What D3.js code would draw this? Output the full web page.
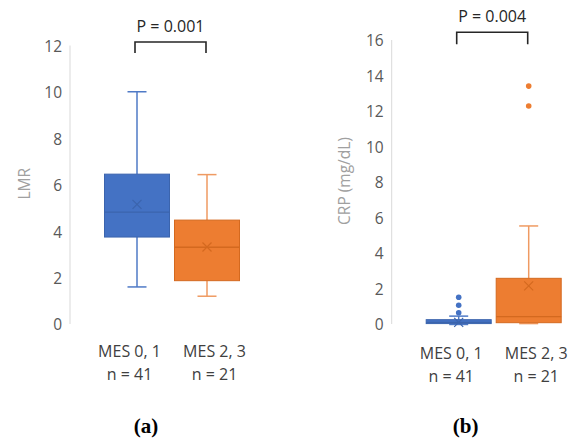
<!DOCTYPE html>
<html>
<head>
<meta charset="utf-8">
<script src="https://cdn.jsdelivr.net/npm/d3@7"></script>
<style>
  body { margin: 0; background: #fff; }
  svg { display: block; font-family: "Open Sans", "Noto Sans", sans-serif; }
</style>
</head>
<body>
<svg id="chart" width="571" height="446"></svg>
<script>
// groups and counts
var groups = ["MES 0, 1", "MES 2, 3"];
var counts = [41, 21];

// (a) LMR
var lmrTicks = [0, 2, 4, 6, 8, 10, 12];
var lmrMin = [1.64, 1.24];
var lmrQ1 = [3.79, 1.91];
var lmrMedian = [4.86, 3.35];
var lmrQ3 = [6.5, 4.52];
var lmrMax = [10.05, 6.48];
var lmrMean = [5.2, 3.36];
var lmrOutliers = [[], []];

// (b) CRP
var crpTicks = [0, 2, 4, 6, 8, 10, 12, 14, 16];
var crpMin = [0.03, 0.08];
var crpQ1 = [0.08, 0.13];
var crpMedian = [0.15, 0.47];
var crpQ3 = [0.3, 2.63];
var crpMax = [0.5, 5.58];
var crpMean = [0.15, 2.2];
var crpOutliers = [[0.69, 1.11, 1.56], [12.34, 13.46]];

var fills = ["#4472C4", "#ED7D31"];
var strokes = ["#3b64ad", "#d4691f"];
var whiskerCols = ["#4f7ac6", "#ef9a62"];

var svg = d3.select("#chart");

var panels = [
  {axisX: 70, top: 46.5, bottom: 325, max: 12, ticks: lmrTicks, title: "LMR", titleX: 25,
   min: lmrMin, q1: lmrQ1, med: lmrMedian, q3: lmrQ3, mx: lmrMax, mean: lmrMean, out: lmrOutliers,
   p: "P = 0.001", pBase: 31.5, brTop: 42, brBot: 53, tag: "(a)"},
  {axisX: 391.7, top: 41, bottom: 325, max: 16, ticks: crpTicks, title: "CRP (mg/dL)", titleX: 345,
   min: crpMin, q1: crpQ1, med: crpMedian, q3: crpQ3, mx: crpMax, mean: crpMean, out: crpOutliers,
   p: "P = 0.004", pBase: 21.7, brTop: 32.3, brBot: 44.3, tag: "(b)"}
];

panels.forEach(function(pn) {
  var g = svg.append("g");

  var y = d3.scaleLinear().domain([0, pn.max]).range([pn.bottom, pn.top]);

  // label positions and box positions
  var xl = d3.scaleBand().domain(groups).range([pn.axisX + 17, pn.axisX + 187]);
  var xb = d3.scaleBand().domain(groups).range([pn.axisX + 32, pn.axisX + 172]);
  var bw = 65, cap = 19;

  // axis line
  g.append("line")
    .attr("x1", pn.axisX).attr("x2", pn.axisX)
    .attr("y1", y(pn.max) - 1).attr("y2", y(0) - 1)
    .attr("stroke", "#d9d9d9").attr("stroke-width", 1);

  // tick labels
  g.selectAll("text.tick")
    .data(pn.ticks)
    .enter()
    .append("text")
    .attr("class", "tick")
    .attr("x", pn.axisX - 8)
    .attr("y", function(d) { return y(d); })
    .attr("dy", "0.35em")
    .attr("text-anchor", "end")
    .attr("fill", "#595959")
    .style("font-size", "15.5px")
    .text(function(d) { return d; });

  // axis title
  g.append("text")
    .attr("transform", "translate(" + pn.titleX + "," + ((pn.top + pn.bottom) / 2 - 2) + ") rotate(-90)")
    .attr("text-anchor", "middle")
    .attr("dy", "0.35em")
    .attr("fill", "#a0a0a0")
    .style("font-size", "15.5px")
    .text(pn.title);

  groups.forEach(function(grp, i) {
    var cx = xb(grp) + xb.bandwidth() / 2;
    var wc = whiskerCols[i];

    // whiskers
    g.append("line").attr("x1", cx).attr("x2", cx)
      .attr("y1", y(pn.mx[i])).attr("y2", y(pn.q3[i]))
      .attr("stroke", wc).attr("stroke-width", 1.5);
    g.append("line").attr("x1", cx).attr("x2", cx)
      .attr("y1", y(pn.q1[i])).attr("y2", y(pn.min[i]))
      .attr("stroke", wc).attr("stroke-width", 1.5);
    [pn.mx[i], pn.min[i]].forEach(function(v) {
      g.append("line").attr("x1", cx - cap / 2).attr("x2", cx + cap / 2)
        .attr("y1", y(v)).attr("y2", y(v))
        .attr("stroke", wc).attr("stroke-width", 1.5);
    });

    // box
    g.append("rect")
      .attr("x", cx - bw / 2)
      .attr("y", y(pn.q3[i]))
      .attr("width", bw)
      .attr("height", Math.max(y(pn.q1[i]) - y(pn.q3[i]), 2))
      .attr("fill", fills[i])
      .attr("stroke", strokes[i])
      .attr("stroke-width", 1);

    // median
    g.append("line")
      .attr("x1", cx - bw / 2).attr("x2", cx + bw / 2)
      .attr("y1", y(pn.med[i])).attr("y2", y(pn.med[i]))
      .attr("stroke", strokes[i]).attr("stroke-width", 1.3);

    // mean marker
    var my = y(pn.mean[i]), s = 4.5;
    g.append("path")
      .attr("d", "M" + (cx - s) + "," + (my - s) + "L" + (cx + s) + "," + (my + s) +
                 "M" + (cx - s) + "," + (my + s) + "L" + (cx + s) + "," + (my - s))
      .attr("stroke", strokes[i]).attr("stroke-width", 1.2).attr("fill", "none");

    // outliers
    g.selectAll(null)
      .data(pn.out[i])
      .enter()
      .append("circle")
      .attr("cx", cx)
      .attr("cy", function(d) { return y(d); })
      .attr("r", 2.8)
      .attr("fill", fills[i]);

    // category labels
    var lx = xl(grp) + xl.bandwidth() / 2;
    g.append("text")
      .attr("x", lx).attr("y", 357 + (pn.axisX > 200 ? 1.5 : 0))
      .attr("text-anchor", "middle")
      .attr("fill", "#404040")
      .style("font-size", "16px")
      .text(grp);
    g.append("text")
      .attr("x", lx).attr("y", 380 + (pn.axisX > 200 ? 1.5 : 0))
      .attr("text-anchor", "middle")
      .attr("fill", "#404040")
      .style("font-size", "16px")
      .text("n = " + counts[i]);
  });

  // significance bracket
  var b0 = xb(groups[0]) + xb.bandwidth() / 2 - 2;
  var b1 = xb(groups[1]) + xb.bandwidth() / 2 - 1;
  g.append("path")
    .attr("d", "M" + b0 + "," + pn.brBot + "V" + pn.brTop + "H" + b1 + "V" + pn.brBot)
    .attr("fill", "none").attr("stroke", "#262626").attr("stroke-width", 1.6);
  g.append("text")
    .attr("x", (b0 + b1) / 2).attr("y", pn.pBase)
    .attr("text-anchor", "middle")
    .attr("fill", "#262626")
    .style("font-size", "16px")
    .text(pn.p);

  // panel tag
  var tagX = (xl(groups[0]) + xl(groups[1]) + xl.bandwidth()) / 2 - (pn.axisX > 200 ? 28 : 26);
  g.append("text")
    .attr("x", tagX).attr("y", 433)
    .attr("text-anchor", "middle")
    .attr("fill", "#000")
    .style("font-family", "'Liberation Serif', 'DejaVu Serif', serif")
    .style("font-size", "21px")
    .style("font-weight", "bold")
    .text(pn.tag);
});
</script>
</body>
</html>
